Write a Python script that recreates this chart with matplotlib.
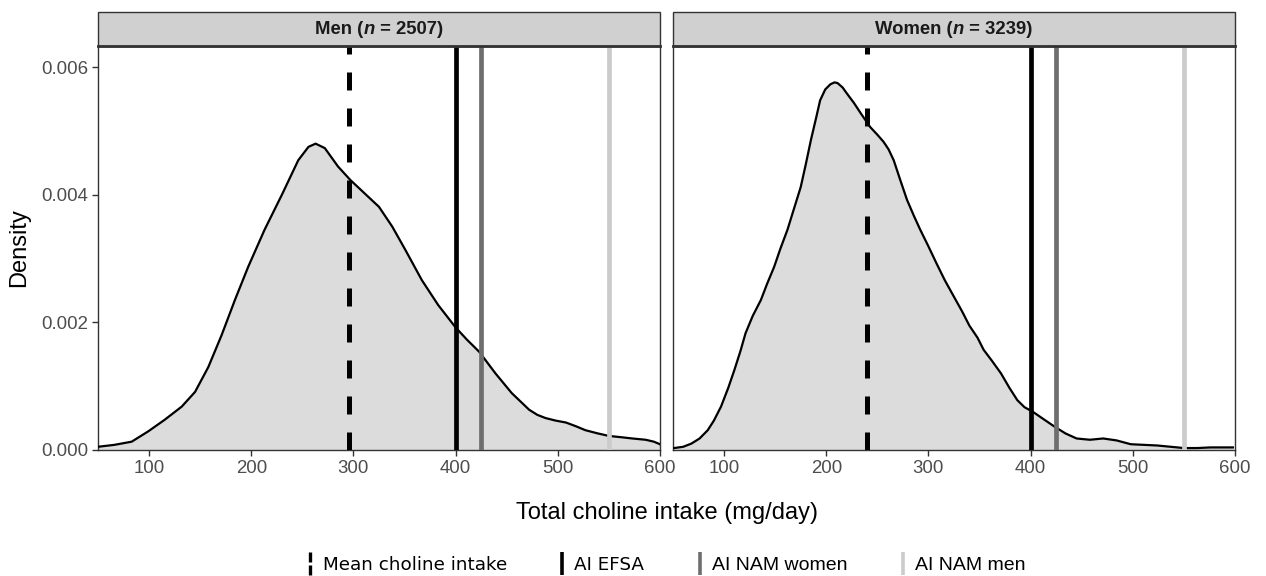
import matplotlib.pyplot as plt
from matplotlib.lines import Line2D
from matplotlib.legend_handler import HandlerBase
from matplotlib.patches import Rectangle

plt.rcParams['font.family'] = ['Liberation Sans', 'DejaVu Sans']

# density curves
men_x = [50, 66, 83, 99, 115, 132, 145, 158, 171, 184, 197, 213, 230, 246, 256, 263, 272, 285, 297,
         311, 325, 338, 351, 367, 383, 400, 411, 423, 439, 455, 472, 480, 488, 498, 508, 518, 527,
         539, 550, 562, 573, 586, 594, 600]
men_y = [0.00005, 0.00008, 0.00013, 0.00029, 0.00047, 0.00068, 0.00091, 0.00130, 0.00180, 0.00235,
         0.00287, 0.00345, 0.00400, 0.00454, 0.00475, 0.00480, 0.00473, 0.00444, 0.00423, 0.00402,
         0.00381, 0.00350, 0.00313, 0.00266, 0.00227, 0.00192, 0.00173, 0.00154, 0.00120, 0.00089,
         0.00063, 0.00055, 0.00050, 0.00046, 0.00043, 0.00037, 0.00031, 0.00026, 0.00022, 0.00020,
         0.00018, 0.00016, 0.00013, 0.00009]

women_x = [51, 60, 68, 76, 84, 90, 97, 104, 110, 116, 121, 128, 136, 142, 149, 155, 162, 168, 175,
           180, 185, 190, 194, 199, 204, 208, 211, 216, 220, 227, 234, 243, 250, 256, 261, 266, 272,
           279, 286, 292, 300, 308, 316, 325, 333, 340, 348, 354, 362, 371, 379, 387, 394, 402, 412,
           423, 434, 445, 458, 471, 484, 498, 511, 524, 537, 550, 563, 576, 588, 598]
women_y = [0.00003, 0.00005, 0.00010, 0.00018, 0.00031, 0.00046, 0.00068, 0.00097, 0.00125, 0.00155,
           0.00183, 0.00210, 0.00235, 0.00260, 0.00287, 0.00315, 0.00345, 0.00376, 0.00412, 0.00448,
           0.00486, 0.00520, 0.00548, 0.00565, 0.00573, 0.00576, 0.00575, 0.00568, 0.00559, 0.00544,
           0.00527, 0.00506, 0.00494, 0.00483, 0.00471, 0.00454, 0.00425, 0.00392, 0.00366, 0.00345,
           0.00319, 0.00292, 0.00266, 0.00240, 0.00217, 0.00195, 0.00176, 0.00157, 0.00140, 0.00120,
           0.00098, 0.00078, 0.00067, 0.00060, 0.00049, 0.00037, 0.00026, 0.00018, 0.00016, 0.00018,
           0.00015, 0.00009, 0.00008, 0.00007, 0.00005, 0.00003, 0.00003, 0.00004, 0.00004, 0.00004]

panel_names = ['Men', 'Women']
panel_n = [2507, 3239]
mean_intake = [296, 240]
ai_efsa = 400
ai_nam_women = 425
ai_nam_men = 550

ref_colors = ['black', '#6e6e6e', '#cbcbcb']
fill_col = '#dcdcdc'
frame_col = '#333333'

fig = plt.figure(figsize=(12.66, 5.76), dpi=100)
ax1 = fig.add_axes([0.0774, 0.2188, 0.4439, 0.7013])
ax2 = fig.add_axes([0.5316, 0.2188, 0.4439, 0.7013], sharey=ax1)
renderer = fig.canvas.get_renderer()

data = [(men_x, men_y), (women_x, women_y)]
for i, ax in enumerate([ax1, ax2]):
    xs, ys = data[i]
    ax.fill_between(xs, 0, ys, color=fill_col, lw=0, zorder=1)
    ax.plot(xs, ys, color='black', lw=1.6, zorder=3, solid_joinstyle='round')
    ax.axvline(mean_intake[i], color='black', lw=3.6, ls=(0, (3.6, 3.6)), zorder=4)
    ax.axvline(ai_efsa, color=ref_colors[0], lw=3.4, zorder=4)
    ax.axvline(ai_nam_women, color=ref_colors[1], lw=3.4, zorder=4)
    ax.axvline(ai_nam_men, color=ref_colors[2], lw=3.4, zorder=4)

    ax.set_xlim(50, 600)
    ax.set_ylim(0, 0.00633)
    ax.set_xticks([100, 200, 300, 400, 500, 600])
    ax.tick_params(axis='both', colors=frame_col, labelcolor='#4d4d4d', labelsize=13.4,
                   length=4, width=1, pad=3)
    for s in ax.spines.values():
        s.set_color(frame_col)
        s.set_linewidth(1)

    # facet strip
    strip = Rectangle((0, 1.0), 1, 0.084, transform=ax.transAxes, facecolor='#d0d0d0',
                      edgecolor=frame_col, lw=1, clip_on=False, zorder=5)
    ax.add_patch(strip)
    ax.plot([0, 1], [1, 1], transform=ax.transAxes, color=frame_col, lw=2, clip_on=False, zorder=6)

    # strip title: bold with italic n
    pieces = [(panel_names[i] + ' (', 'normal'), ('n', 'italic'), (' = %d)' % panel_n[i], 'normal')]
    txts = [ax.text(0, 1.042, p, transform=ax.transAxes, ha='left', va='center', fontsize=13.3,
                    fontweight='bold', fontstyle=st, color='#1a1a1a', zorder=7)
            for p, st in pieces]
    widths = [t.get_window_extent(renderer).width for t in txts]
    ax_w = ax.get_window_extent(renderer).width
    x0 = 0.5 - sum(widths) / ax_w / 2
    for t, w in zip(txts, widths):
        t.set_x(x0)
        x0 += w / ax_w

ax1.set_yticks([0, 0.002, 0.004, 0.006])
ax1.set_yticklabels(['0.000', '0.002', '0.004', '0.006'])
ax2.tick_params(axis='y', left=False, labelleft=False)

ax1.set_ylabel('Density', fontsize=17, labelpad=8)
fig.text(0.527, 0.109, 'Total choline intake (mg/day)', ha='center', va='center', fontsize=17)


class VLineHandler(HandlerBase):
    def create_artists(self, legend, orig_handle, xdescent, ydescent, width, height, fontsize, trans):
        x = width / 2 - xdescent
        y0 = -ydescent - 3.5
        y1 = height - ydescent + 3.5
        kw = dict(color=orig_handle.get_color(), lw=orig_handle.get_linewidth(),
                  solid_capstyle='butt', transform=trans)
        if orig_handle.get_linestyle() == '--':
            mid = (y0 + y1) / 2
            return [Line2D([x, x], [y0, mid - 0.8], **kw), Line2D([x, x], [mid + 0.8, y1], **kw)]
        return [Line2D([x, x], [y0, y1], **kw)]


handles = [Line2D([], [], color='black', lw=2.4, ls='--'),
           Line2D([], [], color=ref_colors[0], lw=2.6),
           Line2D([], [], color=ref_colors[1], lw=2.6),
           Line2D([], [], color=ref_colors[2], lw=2.6)]
labels = ['Mean choline intake', 'AI EFSA', 'AI NAM women', 'AI NAM men']
leg = fig.legend(handles, labels, loc='center', bbox_to_anchor=(0.526, 0.019), ncol=4, frameon=False,
                 fontsize=13.5, handlelength=0.4, handletextpad=0.45, columnspacing=2.75,
                 handler_map={Line2D: VLineHandler()})
for t, fam, sz in zip(leg.get_texts(), ['DejaVu Sans', 'DejaVu Sans', 'Liberation Sans', 'Liberation Sans'],
                      [13.2, 13.2, 14, 14]):
    t.set_fontfamily(fam)
    t.set_fontsize(sz)

fig.savefig('out.png', dpi=100)
